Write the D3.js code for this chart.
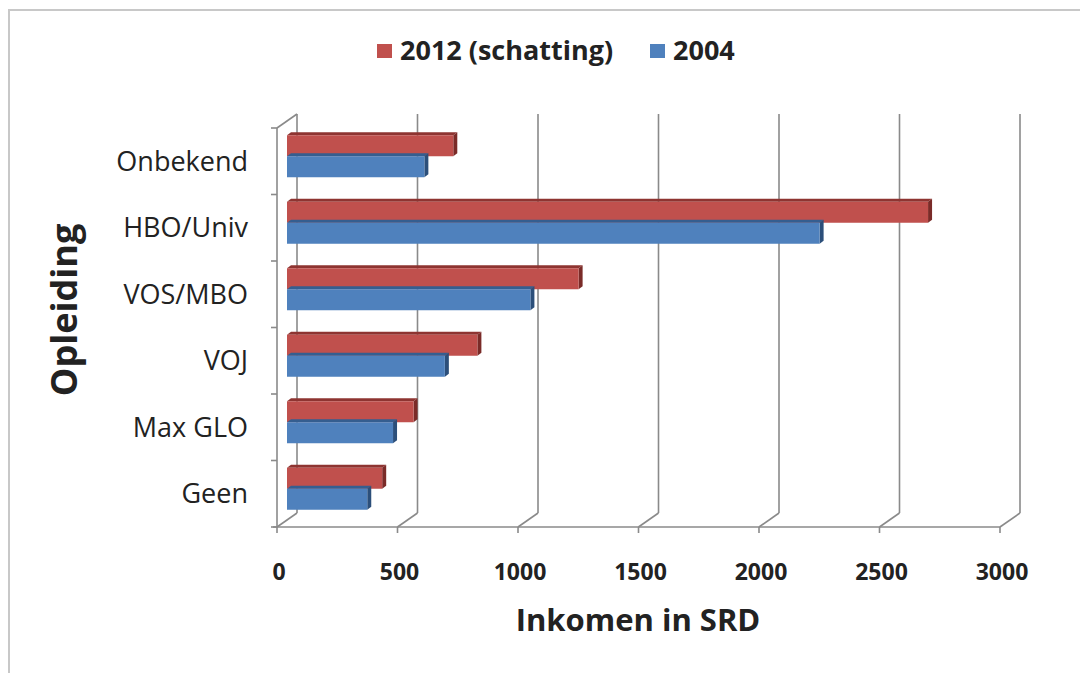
<!DOCTYPE html>
<html>
<head>
<meta charset="utf-8">
<script src="https://cdn.jsdelivr.net/npm/d3@7"></script>
<style>
  html, body { margin: 0; padding: 0; background: #fff; }
  svg { display: block; }
  text { font-family: "Open Sans", Lato, sans-serif; fill: #222; }
</style>
</head>
<body>
<svg id="chart" width="1080" height="673"></svg>
<script>
// ---- data ----
const categories = ["Onbekend", "HBO/Univ", "VOS/MBO", "VOJ", "Max GLO", "Geen"];
const values2012 = [690, 2660, 1210, 790, 525, 395];
const values2004 = [570, 2210, 1010, 655, 440, 333];
const seriesNames = ["2012 (schatting)", "2004"];
const xTicks = [0, 500, 1000, 1500, 2000, 2500, 3000];
const xTitle = "Inkomen in SRD";
const yTitle = "Opleiding";

// ---- layout ----
const svg = d3.select("#chart");
const W = 1080, H = 673;
const front = { left: 277, right: 1000, top: 128, bottom: 527 };
const DX = 20, DY = -14;      // depth of back wall
const BX = 10, BY = -5;       // bar plane offset
const colors = {
  red: "#C0504D", redTop: "#8E3431", redSide: "#7A2B28",
  blue: "#4F81BD", blueTop: "#355E90", blueSide: "#2C4F7A"
};

// frame
svg.append("rect").attr("x", 9).attr("y", 10).attr("width", W + 20).attr("height", H + 20)
  .attr("fill", "#fff").attr("stroke", "#c8c8c8").attr("stroke-width", 2);

const x = d3.scaleLinear().domain([0, 3000]).range([front.left, front.right]);
const y = d3.scaleBand().domain(categories).range([front.top, front.bottom]);

const grid = svg.append("g").attr("stroke", "#8a8a8a").attr("stroke-width", 1.6).attr("fill", "none");
// back wall gridlines + floor diagonals
xTicks.forEach(v => {
  const xf = x(v), xb = x(v) + DX;
  grid.append("line").attr("x1", xb).attr("x2", xb)
    .attr("y1", front.top + DY).attr("y2", front.bottom + DY);
  grid.append("path").attr("d", `M${xf},${front.bottom}L${xb},${front.bottom + DY}`);
  grid.append("line").attr("x1", xf).attr("x2", xf)
    .attr("y1", front.bottom).attr("y2", front.bottom + 6);
});
// front x axis line
grid.append("line").attr("x1", front.left - 4).attr("x2", front.right)
  .attr("y1", front.bottom).attr("y2", front.bottom);
// left axis
grid.append("line").attr("x1", front.left).attr("x2", front.left)
  .attr("y1", front.top).attr("y2", front.bottom);
grid.append("path").attr("d", `M${front.left},${front.top}L${front.left + DX},${front.top + DY}`);
const bounds = categories.map(c => y(c)).concat([front.bottom]);
bounds.forEach(b => {
  grid.append("line").attr("x1", front.left - 6).attr("x2", front.left)
    .attr("y1", b).attr("y2", b);
});

// bars
const groupH = 42, barH = groupH / 2;
const d = 4, dd = -3; // bar depth
const bars = svg.append("g");
function bar3d(v, top, fill, topFill, sideFill) {
  const x0 = x(0) + BX, x1 = x(v) + BX;
  const y0 = top, y1 = top + barH;
  bars.append("path").attr("d", `M${x0},${y0}L${x0 + d},${y0 + dd}L${x1 + d},${y0 + dd}L${x1},${y0}Z`).attr("fill", topFill);
  bars.append("path").attr("d", `M${x1},${y0}L${x1 + d},${y0 + dd}L${x1 + d},${y1 + dd}L${x1},${y1}Z`).attr("fill", sideFill);
  bars.append("rect").attr("x", x0).attr("y", y0).attr("width", x1 - x0).attr("height", barH).attr("fill", fill);
}
categories.forEach((c, i) => {
  const gTop = y(c) + (y.bandwidth() - groupH) / 2 + BY;
  bar3d(values2012[i], gTop, colors.red, colors.redTop, colors.redSide);
  bar3d(values2004[i], gTop + barH, colors.blue, colors.blueTop, colors.blueSide);
});

// category labels
svg.append("g").selectAll("text").data(categories).join("text")
  .attr("x", 248).attr("y", c => y(c) + y.bandwidth() / 2)
  .attr("dy", "0.36em").attr("text-anchor", "end")
  .style("font-size", "27px").text(c => c);

// tick labels
svg.append("g").selectAll("text").data(xTicks).join("text")
  .attr("x", v => x(v) + 2).attr("y", 580).attr("text-anchor", "middle")
  .style("font-size", "23px").style("font-weight", "bold").text(v => v);

// axis titles
svg.append("text").attr("x", 638).attr("y", 631).attr("text-anchor", "middle")
  .style("font-size", "31px").style("font-weight", "bold").text(xTitle);
svg.append("text").attr("transform", "translate(77,310) rotate(-90)").attr("text-anchor", "middle")
  .style("font-size", "36px").style("font-weight", "bold").text(yTitle);

// legend
const legend = svg.append("g");
const legendX = [377, 650];
const legendColors = [colors.red, colors.blue];
seriesNames.forEach((s, i) => {
  legend.append("rect").attr("x", legendX[i]).attr("y", 44).attr("width", 15).attr("height", 14).attr("fill", legendColors[i]);
  legend.append("text").attr("x", legendX[i] + 23).attr("y", 60)
    .style("font-size", "27px").style("font-weight", "bold").text(s);
});
</script>
</body>
</html>
